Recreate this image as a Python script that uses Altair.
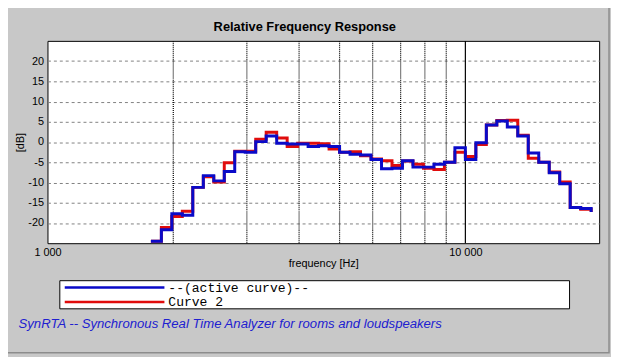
import altair as alt
import pandas as pd

# ---------------- data ----------------
TITLE = "Relative Frequency Response"
X_TITLE = "frequency [Hz]"
Y_TITLE = "[dB]"
FOOTER = "SynRTA -- Synchronous Real Time Analyzer for rooms and loudspeakers"
SERIES = ["--(active curve)--", "Curve 2"]
COLORS = ["#0a0ac8", "#e00c0c"]

# 1/12-octave band start frequencies (last value = end of last band)
band_start_hz = [1768, 1873, 1984, 2102, 2227, 2360, 2500, 2649, 2806, 2973,
                 3150, 3337, 3536, 3746, 3969, 4204, 4454, 4719, 5000, 5297,
                 5612, 5946, 6300, 6674, 7071, 7492, 7937, 8409, 8909, 9439,
                 10000, 10595, 11225, 11892, 12599, 13348, 14142, 14983, 15874, 16818,
                 17818, 18877, 20000]

active_db = [-24.5, -21.7, -17.7, -18.1, -11.2, -8.3, -9.6, -7.3, -2.4, -2.5,
             0.1, 1.5, -0.3, -0.5, -0.5, -1.1, -0.9, -1.1, -2.5, -3.0,
             -3.2, -4.3, -6.6, -6.5, -4.6, -6.2, -6.2, -5.5, -5.0, -1.4,
             -4.3, -0.2, 4.2, 5.2, 3.7, 1.5, -2.7, -5.0, -7.6, -10.3,
             -16.2, -16.4, -17.3]

curve2_db = [-24.5, -21.1, -18.4, -17.1, -11.2, -8.6, -9.9, -5.1, -2.3, -2.3,
             0.7, 2.4, 1.0, -1.1, -0.3, -0.3, -0.4, -1.7, -2.5, -2.4,
             -3.4, -4.2, -4.6, -5.8, -4.7, -5.5, -6.5, -6.8, -5.0, -2.5,
             -3.6, -0.6, 4.2, 5.3, 5.4, 1.7, -4.0, -5.0, -7.4, -9.9,
             -16.2, -16.6, -17.3]

y_ticks = [-20, -15, -10, -5, 0, 5, 10, 15, 20]
x_label_ticks = [1000, 10000]
minor_grid_hz = [2000, 3000, 4000, 5000, 6000, 7000, 8000, 9000]
major_grid_hz = [10000]
x_domain = [1000, 20900]
y_domain = [-25, 25]

FONT = "Liberation Sans"
MONO = "Liberation Mono"

# ---------------- scales / axes ----------------
xscale = alt.Scale(type="log", domain=x_domain, nice=False)
yscale = alt.Scale(domain=y_domain, nice=False, zero=False)

x_axis = alt.Axis(values=x_label_ticks, grid=False, ticks=False, domain=False,
                  labelExpr="replace(format(datum.value, ','), ',', ' ')",
                  labelFlush=False, labelFont=FONT, labelFontSize=11, labelColor="black",
                  labelPadding=3, title=X_TITLE, titleFont=FONT, titleFontSize=11,
                  titleFontWeight="normal", titleColor="black",
                  titleX=279.5, titleY=21, titleBaseline="middle", titleAlign="center")
y_axis = alt.Axis(values=y_ticks, grid=True, gridDash=[3, 3], gridColor="#808080",
                  gridOpacity=1, ticks=False, domain=False, labelExpr="'' + datum.value",
                  labelFont=FONT, labelFontSize=11, labelColor="black", labelPadding=4,
                  title=Y_TITLE, titleFont=FONT, titleFontSize=11, titleFontWeight="normal",
                  titleColor="black", titleX=-27, titleY=102.5, titleBaseline="middle",
                  titleAlign="center")

X = alt.X("f:Q", scale=xscale, axis=x_axis)
Y = alt.Y("db:Q", scale=yscale, axis=y_axis)

# ---------------- layers ----------------
minor = alt.Chart(pd.DataFrame({"f": minor_grid_hz})).mark_rule(
    color="black", strokeWidth=1.2, strokeDash=[1, 1]).encode(x=X)
major = alt.Chart(pd.DataFrame({"f": major_grid_hz})).mark_rule(
    color="black", strokeWidth=1.2).encode(x=X)

df_active = pd.DataFrame({"f": band_start_hz, "db": active_db})
df_c2 = pd.DataFrame({"f": band_start_hz, "db": curve2_db})

red = alt.Chart(df_c2).mark_line(interpolate="step-after", color=COLORS[1],
                                 strokeWidth=3).encode(x=X, y=Y)
blue = alt.Chart(df_active).mark_line(interpolate="step-after", color=COLORS[0],
                                      strokeWidth=3).encode(x=X, y=Y)

one = pd.DataFrame({"a": [0]})

frame = alt.Chart(one).mark_rect(fillOpacity=0, stroke="#8c8c8c", strokeWidth=1.5).encode(
    x=alt.value(-60), x2=alt.value(569), y=alt.value(-60), y2=alt.value(316))

title = alt.Chart(pd.DataFrame({"t": [TITLE]})).mark_text(
    font=FONT, fontSize=13, fontWeight="bold", color="black", align="center",
    baseline="alphabetic").encode(text="t:N", x=alt.value(260.7), y=alt.value(-10))

leg_box = alt.Chart(one).mark_rect(fill="white", stroke="black", strokeWidth=1).encode(
    x=alt.value(12.5), x2=alt.value(529), y=alt.value(243), y2=alt.value(271.5))
leg_blue = alt.Chart(one).mark_rule(color=COLORS[0], strokeWidth=2.5).encode(
    x=alt.value(17.5), x2=alt.value(118.5), y=alt.value(250))
leg_red = alt.Chart(one).mark_rule(color=COLORS[1], strokeWidth=2.5).encode(
    x=alt.value(17.5), x2=alt.value(118.5), y=alt.value(264.5))
leg_t1 = alt.Chart(pd.DataFrame({"t": [SERIES[0]]})).mark_text(
    font=MONO, fontSize=13.2, color="black", align="left", baseline="middle").encode(
    text="t:N", x=alt.value(122.5), y=alt.value(250))
leg_t2 = alt.Chart(pd.DataFrame({"t": [SERIES[1]]})).mark_text(
    font=MONO, fontSize=13.2, color="black", align="left", baseline="middle").encode(
    text="t:N", x=alt.value(122.5), y=alt.value(265))

footer = alt.Chart(pd.DataFrame({"t": [FOOTER]})).mark_text(
    font=FONT, fontSize=13.3, fontStyle="italic", color="#2020d0", align="left",
    baseline="middle").encode(text="t:N", x=alt.value(-29.3), y=alt.value(287))

chart = alt.layer(
    minor, major, red, blue, frame, title, leg_box, leg_blue, leg_red, leg_t1, leg_t2, footer
).properties(
    width=559, height=205,
    padding={"left": 40, "top": 31, "right": 12, "bottom": 113},
    autosize=alt.AutoSizeParams(type="none"),
    background="#c8c8c8",
).configure_view(fill="white", stroke="black", strokeWidth=1)

chart.save("out.html", embed_options={"renderer": "svg", "actions": False})
